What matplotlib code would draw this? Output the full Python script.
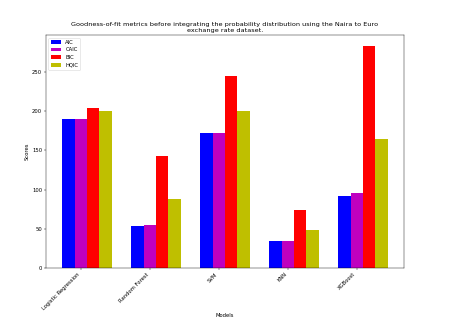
import numpy as np
import matplotlib
matplotlib.use('Agg')
import matplotlib.pyplot as plt

models = ['Logistic Regression', 'Random Forest', 'SVM', 'KNN', 'XGBoost']
aic = [189.5, 54, 171.8, 34, 91.8]
caic = [189.5, 54.2, 172, 34, 95.3]
bic = [204, 142.5, 245.5, 73.5, 283]
hqic = [200, 87.6, 200, 48.5, 165]

index = np.arange(len(models))
bar_width = 0.18

fig, ax = plt.subplots(figsize=(12, 8.67), dpi=454 / 12)
ax.bar(index, aic, bar_width, color='b', label='AIC')
ax.bar(index + bar_width, caic, bar_width, color='m', label='CAIC')
ax.bar(index + 2 * bar_width, bic, bar_width, color='r', label='BIC')
ax.bar(index + 3 * bar_width, hqic, bar_width, color='y', label='HQIC')

ax.set_xlabel('Models')
ax.set_ylabel('Scores')
ax.set_title('Goodness-of-fit metrics before integrating the probability distribution using the Naira to Euro\nexchange rate dataset.',
             fontsize=12.4)
ax.set_xticks(index + bar_width)
ax.set_xticklabels(models, rotation=45, ha='right')
ax.legend(loc='upper left')

fig.subplots_adjust(left=0.101, right=0.89, top=0.893, bottom=0.183)
fig.savefig('out.png', dpi=454 / 12)
